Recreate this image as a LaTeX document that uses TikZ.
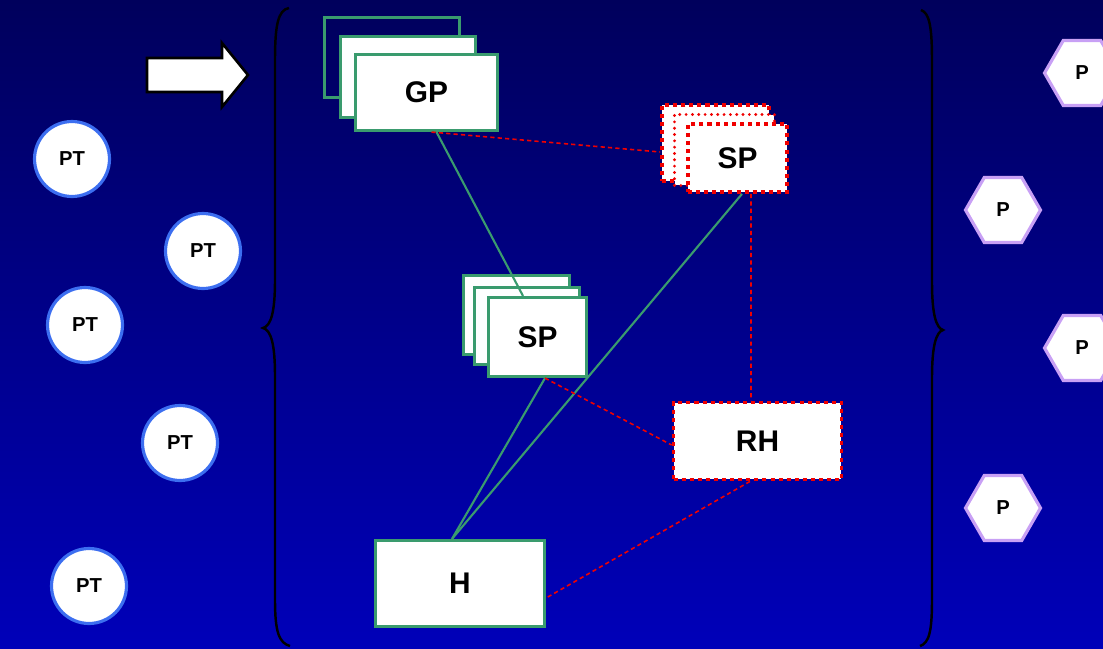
\documentclass[tikz,border=0pt]{standalone}
\usepackage{fontspec}
\setmainfont{Liberation Sans}
\usetikzlibrary{shapes.geometric,calc}
\definecolor{bgtop}{RGB}{0,0,92}
\definecolor{bgbot}{RGB}{0,0,185}
\definecolor{boxgreen}{RGB}{58,155,110}
\definecolor{ptblue}{RGB}{60,110,240}
\definecolor{hexlilac}{RGB}{200,160,245}
\definecolor{dashred}{RGB}{240,0,0}
\tikzset{
  gbox/.style={draw=boxgreen, line width=1.8pt, fill=white, rectangle, inner sep=0pt,
    font=\bfseries\fontsize{17}{17}\selectfont},
  gboxhollow/.style={draw=boxgreen, line width=1.8pt, rectangle, inner sep=0pt},
  rbox/.style={draw=dashred, line width=2.2pt, fill=white, rectangle, inner sep=0pt,
    dash pattern=on 2.3pt off 2.3pt, font=\bfseries\fontsize{17}{17}\selectfont},
  rdotbox/.style={draw=dashred, line width=1.8pt, fill=white, rectangle, inner sep=0pt,
    line cap=round, dash pattern=on 0pt off 3.6pt},
  ptnode/.style={circle, draw=ptblue, line width=1.8pt, fill=white, minimum size=1.5cm,
    inner sep=0pt, font=\bfseries\fontsize{11.5}{11.5}\selectfont},
  pnode/.style={regular polygon, regular polygon sides=6, draw=hexlilac, line width=1.8pt,
    fill=white, minimum size=1.5cm, inner sep=0pt, font=\bfseries\fontsize{11.5}{11.5}\selectfont},
  glink/.style={draw=boxgreen, line width=1.2pt},
  rlink/.style={draw=dashred, line width=0.9pt, dash pattern=on 2.4pt off 1.8pt},
  bracepath/.style={draw=black, line width=1.4pt},
}
\begin{document}
\begin{tikzpicture}[x=0.02cm, y=-0.02cm]
% canvas with vertical gradient
\shade[top color=bgtop, bottom color=bgbot] (0,0) rectangle (1103,649);
\useasboundingbox (0,0) rectangle (1103,649);
\clip (0,0) rectangle (1103,649);

% block arrow
\draw[fill=white, draw=black, line width=1.5pt, line join=miter]
  (147,58) -- (222,58) -- (222,43) -- (248,75) -- (222,107) -- (222,92) -- (147,92) -- cycle;

% curly braces
\draw[bracepath] (289,8) .. controls (278,10) and (275,25) .. (275,60) -- (275,280)
  .. controls (275,312) and (271,326) .. (263,328)
  .. controls (271,330) and (275,344) .. (275,376) -- (275,600)
  .. controls (275,632) and (279,643) .. (290,646);
\draw[bracepath] (921,10) .. controls (929,13) and (932,25) .. (932,60) -- (932,282)
  .. controls (932,314) and (936,328) .. (943,330)
  .. controls (936,332) and (932,346) .. (932,378) -- (932,600)
  .. controls (932,632) and (929,643) .. (920,646);

% GP stack
\node[gboxhollow, minimum width=2.70cm, minimum height=1.60cm] (gpback) at (392,57.5) {};
\node[gbox, minimum width=2.70cm, minimum height=1.62cm] (gpmid) at (408,77) {};

% SP stack (dotted)
\node[rbox, minimum width=2.14cm, minimum height=1.52cm] (sptback) at (715.5,143) {};
\node[rdotbox, minimum width=2.00cm, minimum height=1.42cm] (sptmid) at (724.5,150) {};

% SP stack (middle)
\node[gbox, minimum width=2.12cm, minimum height=1.58cm] (spmback) at (516.5,315) {};
\node[gbox, minimum width=2.10cm, minimum height=1.54cm] (spmmid) at (527,326) {};

% front boxes
\node[gbox, minimum width=2.84cm, minimum height=1.52cm] (gp) at (426.5,92.5) {GP};
\node[rbox, minimum width=1.98cm, minimum height=1.36cm] (spt) at (737.5,158) {SP};
\node[gbox, minimum width=1.96cm, minimum height=1.58cm] (spm) at (537.5,337) {SP};
\node[rbox, minimum width=3.36cm, minimum height=1.54cm] (rh) at (757.5,441) {RH};
\node[gbox, minimum width=3.38cm, minimum height=1.72cm] (h) at (460,583.5) {H};

% connectors
\draw[glink] ([xshift=0.2cm]gp.south) -- ([xshift=-0.29cm]spm.north);
\draw[glink] ([xshift=0.09cm]spt.south) -- ([xshift=-0.16cm]h.north);
\draw[glink] ([xshift=0.15cm]spm.south) -- ([xshift=-0.16cm]h.north);
\draw[rlink] ([xshift=0.1cm]gp.south) -- ([yshift=-0.18cm]sptback.west);
\draw[rlink] ([xshift=0.27cm]spt.south) -- ([xshift=-0.13cm]rh.north);
\draw[rlink] ([xshift=0.15cm]spm.south) -- ([yshift=-0.08cm]rh.west);
\draw[rlink] ([xshift=-0.15cm]rh.south) -- ([yshift=-0.29cm]h.east);

% PT circles
\node[ptnode] (pt1) at (72,159) {PT};
\node[ptnode] (pt2) at (203,251) {PT};
\node[ptnode] (pt3) at (85,325) {PT};
\node[ptnode] (pt4) at (180,443) {PT};
\node[ptnode] (pt5) at (89,586) {PT};

% P hexagons
\node[pnode] (p1) at (1082,73) {P};
\node[pnode] (p2) at (1003,210) {P};
\node[pnode] (p3) at (1082,348) {P};
\node[pnode] (p4) at (1003,508) {P};
\end{tikzpicture}
\end{document}
